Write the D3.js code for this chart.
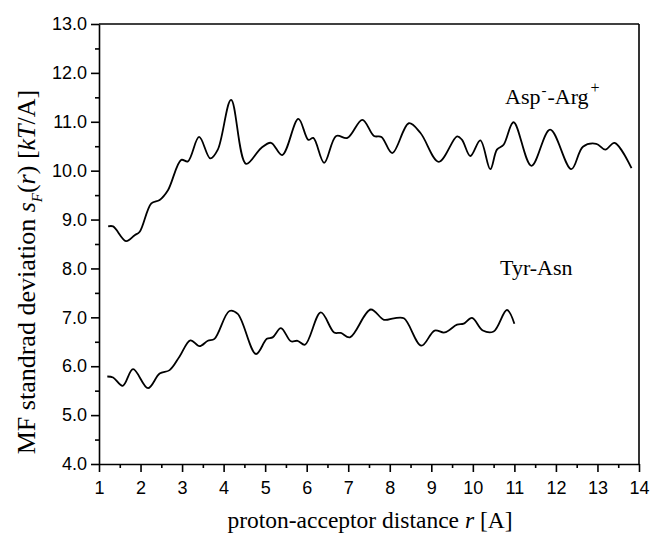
<!DOCTYPE html>
<html>
<head>
<meta charset="utf-8">
<script src="https://cdn.jsdelivr.net/npm/d3@7"></script>
<style>
  body { margin: 0; background: #fff; }
  svg { display: block; }
  .tick text { font-family: "Liberation Sans", Arial, sans-serif; font-size: 18px; fill: #000; }
  .lbl { font-family: "Liberation Serif", "Times New Roman", serif; fill: #000; }
</style>
</head>
<body>
<div id="chart"></div>
<script>
// Asp- Arg+ curve
var rAsp = [1.22,1.34,1.65,1.86,1.98,2.26,2.46,2.66,2.98,3.14,3.41,3.68,3.86,4.18,4.54,4.90,5.14,5.41,5.80,6.04,6.16,6.42,6.71,6.98,7.34,7.62,7.80,8.06,8.46,8.74,9.18,9.62,9.74,9.94,10.18,10.42,10.58,10.74,10.98,11.41,11.86,12.37,12.65,12.97,13.19,13.41,13.82];
var sAsp = [8.86,8.86,8.56,8.68,8.75,9.33,9.40,9.60,10.22,10.19,10.69,10.25,10.43,11.45,10.14,10.46,10.57,10.32,11.06,10.63,10.67,10.16,10.71,10.67,11.04,10.71,10.69,10.36,10.97,10.77,10.18,10.70,10.63,10.30,10.62,10.03,10.43,10.53,10.99,10.10,10.84,10.03,10.49,10.55,10.43,10.57,10.05];
// Tyr-Asn curve
var rTyr = [1.20,1.34,1.57,1.82,2.18,2.46,2.70,2.94,3.20,3.42,3.62,3.78,4.14,4.34,4.78,5.04,5.18,5.38,5.62,5.78,5.96,6.34,6.66,6.82,7.04,7.54,7.86,8.10,8.34,8.76,9.08,9.32,9.62,9.78,9.98,10.24,10.50,10.82,11.00];
var sTyr = [5.79,5.77,5.60,5.94,5.55,5.85,5.92,6.20,6.53,6.41,6.52,6.56,7.13,7.07,6.25,6.56,6.59,6.78,6.51,6.52,6.44,7.10,6.69,6.68,6.59,7.16,6.95,6.98,6.98,6.42,6.73,6.69,6.85,6.87,6.99,6.73,6.71,7.15,6.87];

var xTicks = [1,2,3,4,5,6,7,8,9,10,11,12,13,14];
var yTicks = [4,5,6,7,8,9,10,11,12,13];

var W = 651, H = 535;
var m = {left: 99, right: 12, top: 24, bottom: 71};

var svg = d3.select("#chart").append("svg").attr("width", W).attr("height", H);

var x = d3.scaleLinear().domain([1, 14]).range([m.left, W - m.right]);
var y = d3.scaleLinear().domain([4, 13]).range([H - m.bottom, m.top]);

// minor ticks first
svg.append("g").attr("transform", "translate(0," + (H - m.bottom) + ")")
  .call(d3.axisBottom(x).tickValues(d3.range(1.5, 14, 1)).tickSize(4).tickFormat(""))
  .call(function(g){ g.select(".domain").remove(); g.selectAll("line").attr("stroke-width", 1.6); });
svg.append("g").attr("transform", "translate(" + m.left + ",0)")
  .call(d3.axisLeft(y).tickValues(d3.range(4.5, 13, 1)).tickSize(4).tickFormat(""))
  .call(function(g){ g.select(".domain").remove(); g.selectAll("line").attr("stroke-width", 1.6); });

var gx = svg.append("g").attr("transform", "translate(0," + (H - m.bottom) + ")")
  .call(d3.axisBottom(x).tickValues(xTicks).tickSize(8).tickSizeOuter(0).tickPadding(9).tickFormat(d3.format("d")));
var gy = svg.append("g").attr("transform", "translate(" + m.left + ",0)")
  .call(d3.axisLeft(y).tickValues(yTicks).tickSize(8).tickSizeOuter(0).tickPadding(4).tickFormat(d3.format(".1f")));
[gx, gy].forEach(function(g){
  g.select(".domain").attr("stroke-width", 1.6);
  g.selectAll(".tick line").attr("stroke-width", 1.6);
});

// top and right frame
svg.append("line").attr("x1", x(1)).attr("x2", x(14)).attr("y1", y(13)).attr("y2", y(13))
  .attr("stroke", "#000").attr("stroke-width", 1.6);
svg.append("line").attr("x1", x(14)).attr("x2", x(14)).attr("y1", y(13)).attr("y2", y(4))
  .attr("stroke", "#000").attr("stroke-width", 1.6);

var line = d3.line().x(function(d){ return x(d[0]); }).y(function(d){ return y(d[1]); })
  .curve(d3.curveCatmullRom.alpha(0.5));

svg.append("path").datum(d3.zip(rAsp, sAsp)).attr("d", line)
  .attr("fill", "none").attr("stroke", "#000").attr("stroke-width", 1.8);
svg.append("path").datum(d3.zip(rTyr, sTyr)).attr("d", line)
  .attr("fill", "none").attr("stroke", "#000").attr("stroke-width", 1.8);

// curve labels
var t1 = svg.append("text").attr("class", "lbl").attr("x", 505).attr("y", 104).style("font-size", "22px");
t1.append("tspan").text("Asp");
t1.append("tspan").attr("dy", -9).attr("dx", 1).style("font-size", "15px").text("-");
t1.append("tspan").attr("dy", 9).attr("dx", 1).text("-Arg");
t1.append("tspan").attr("dy", -11).attr("dx", 2).style("font-size", "16px").text("+");

svg.append("text").attr("class", "lbl").attr("x", 500).attr("y", 275).style("font-size", "22px").text("Tyr-Asn");

// axis titles
var xt = svg.append("text").attr("class", "lbl").attr("x", 370).attr("y", 528)
  .attr("text-anchor", "middle").style("font-size", "23.5px");
xt.append("tspan").text("proton-acceptor distance ");
xt.append("tspan").style("font-style", "italic").text("r");
xt.append("tspan").text(" [A]");

var yt = svg.append("text").attr("class", "lbl")
  .attr("transform", "translate(35,272) rotate(-90)")
  .attr("text-anchor", "middle").style("font-size", "26px");
yt.append("tspan").text("MF standrad deviation ");
yt.append("tspan").style("font-style", "italic").text("s");
yt.append("tspan").attr("dy", 7).style("font-size", "15px").style("font-style", "italic").text("F");
yt.append("tspan").attr("dy", -7).text("(");
yt.append("tspan").style("font-style", "italic").text("r");
yt.append("tspan").text(") [");
yt.append("tspan").style("font-style", "italic").text("kT");
yt.append("tspan").text("/A]");
</script>
</body>
</html>
